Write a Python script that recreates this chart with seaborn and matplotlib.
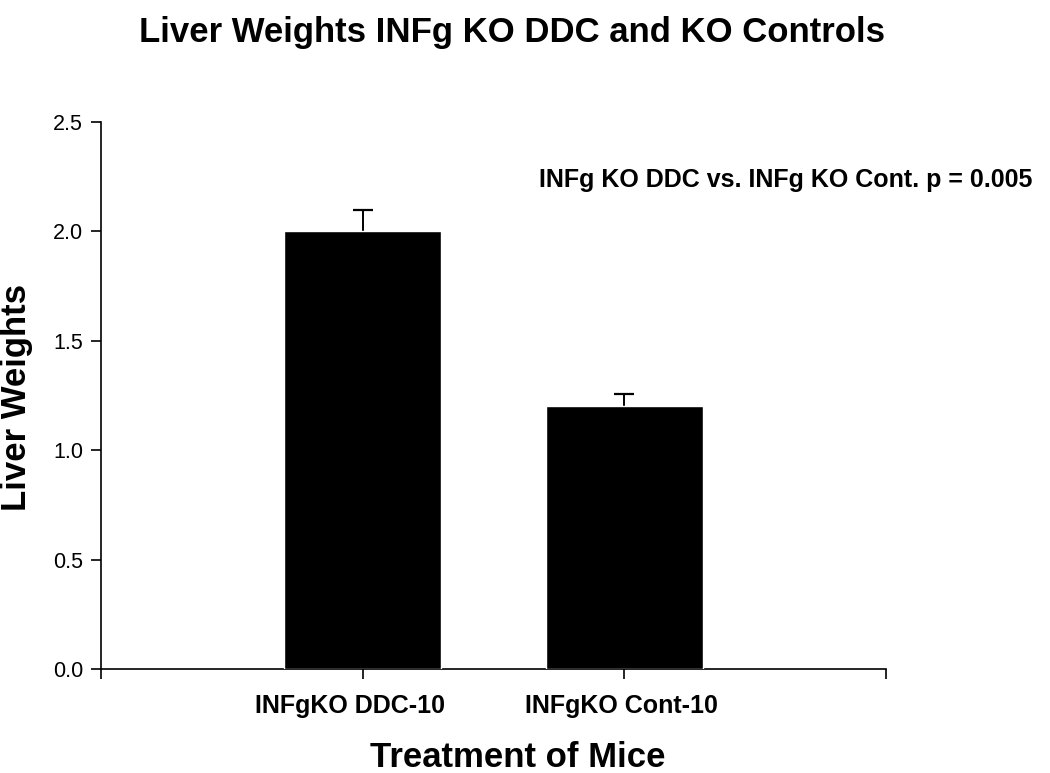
import numpy as np
import pandas as pd
import seaborn as sns
import matplotlib.pyplot as plt
import matplotlib.transforms as mtransforms

groups = ['INFgKO DDC-10', 'INFgKO Cont-10']
weights = [2.0, 1.2]
sem = [0.10, 0.055]

sns.set_style('white')
plt.rcParams['font.family'] = ['Liberation Sans', 'DejaVu Sans']
plt.rcParams['text.color'] = 'black'
plt.rcParams['axes.labelcolor'] = 'black'
plt.rcParams['xtick.color'] = 'black'
plt.rcParams['ytick.color'] = 'black'

df = pd.DataFrame({'group': groups, 'weight': weights})

fig = plt.figure(figsize=(10.5, 7.73), dpi=100)
ax = fig.add_axes([0.0962, 0.1345, 0.7476, 0.7077])
sns.barplot(data=df, x='group', y='weight', color='black', width=0.6,
            errorbar=None, saturation=1, ax=ax, zorder=3)
eb = ax.errorbar(range(len(groups)), weights, yerr=[np.zeros(len(sem)), sem],
                 fmt='none', ecolor='black', elinewidth=1.4, capsize=7,
                 capthick=1.6, zorder=2)
# only the upper whisker is shown, like the original
eb.lines[1][0].set_visible(False)

ax.set_xlim(-1, 2)
ax.set_ylim(0, 2.5)
yt = np.arange(0, 2.51, 0.5)
ax.set_yticks(yt)
ax.set_yticklabels([f'{v:.1f}' for v in yt], fontsize=15.5)
ax.set_xticks([-1, 0, 1, 2])
ax.set_xticklabels(['', groups[0], groups[1], ''], fontsize=18, fontweight='bold')
ax.tick_params(axis='both', direction='out', length=7, width=1.2,
               bottom=True, left=True)
ax.tick_params(axis='x', pad=11)
ax.tick_params(axis='y', pad=6)

# the category labels sit a little left of their ticks in the original
for lab, dx in zip(ax.get_xticklabels()[1:3], [-13, -3]):
    lab.set_transform(lab.get_transform() +
                      mtransforms.ScaledTranslation(dx / 100, 0, fig.dpi_scale_trans))

for side in ['top', 'right']:
    ax.spines[side].set_visible(False)
for side in ['left', 'bottom']:
    ax.spines[side].set_color('black')
    ax.spines[side].set_linewidth(1.2)

ax.set_xlabel('Treatment of Mice', fontsize=25, fontweight='bold')
ax.xaxis.set_label_coords(0.531, -0.132)
ax.set_ylabel('Liver Weights', fontsize=25, fontweight='bold')
ax.yaxis.set_label_coords(-0.087, 0.496)
fig.text(0.488, 0.958, 'Liver Weights INFg KO DDC and KO Controls',
         ha='center', va='center', fontsize=25, fontweight='bold')
fig.text(0.983, 0.767, 'INFg KO DDC vs. INFg KO Cont. p = 0.005',
         ha='right', va='center', fontsize=18, fontweight='bold')

fig.savefig('out.png', dpi=100, facecolor='white')
